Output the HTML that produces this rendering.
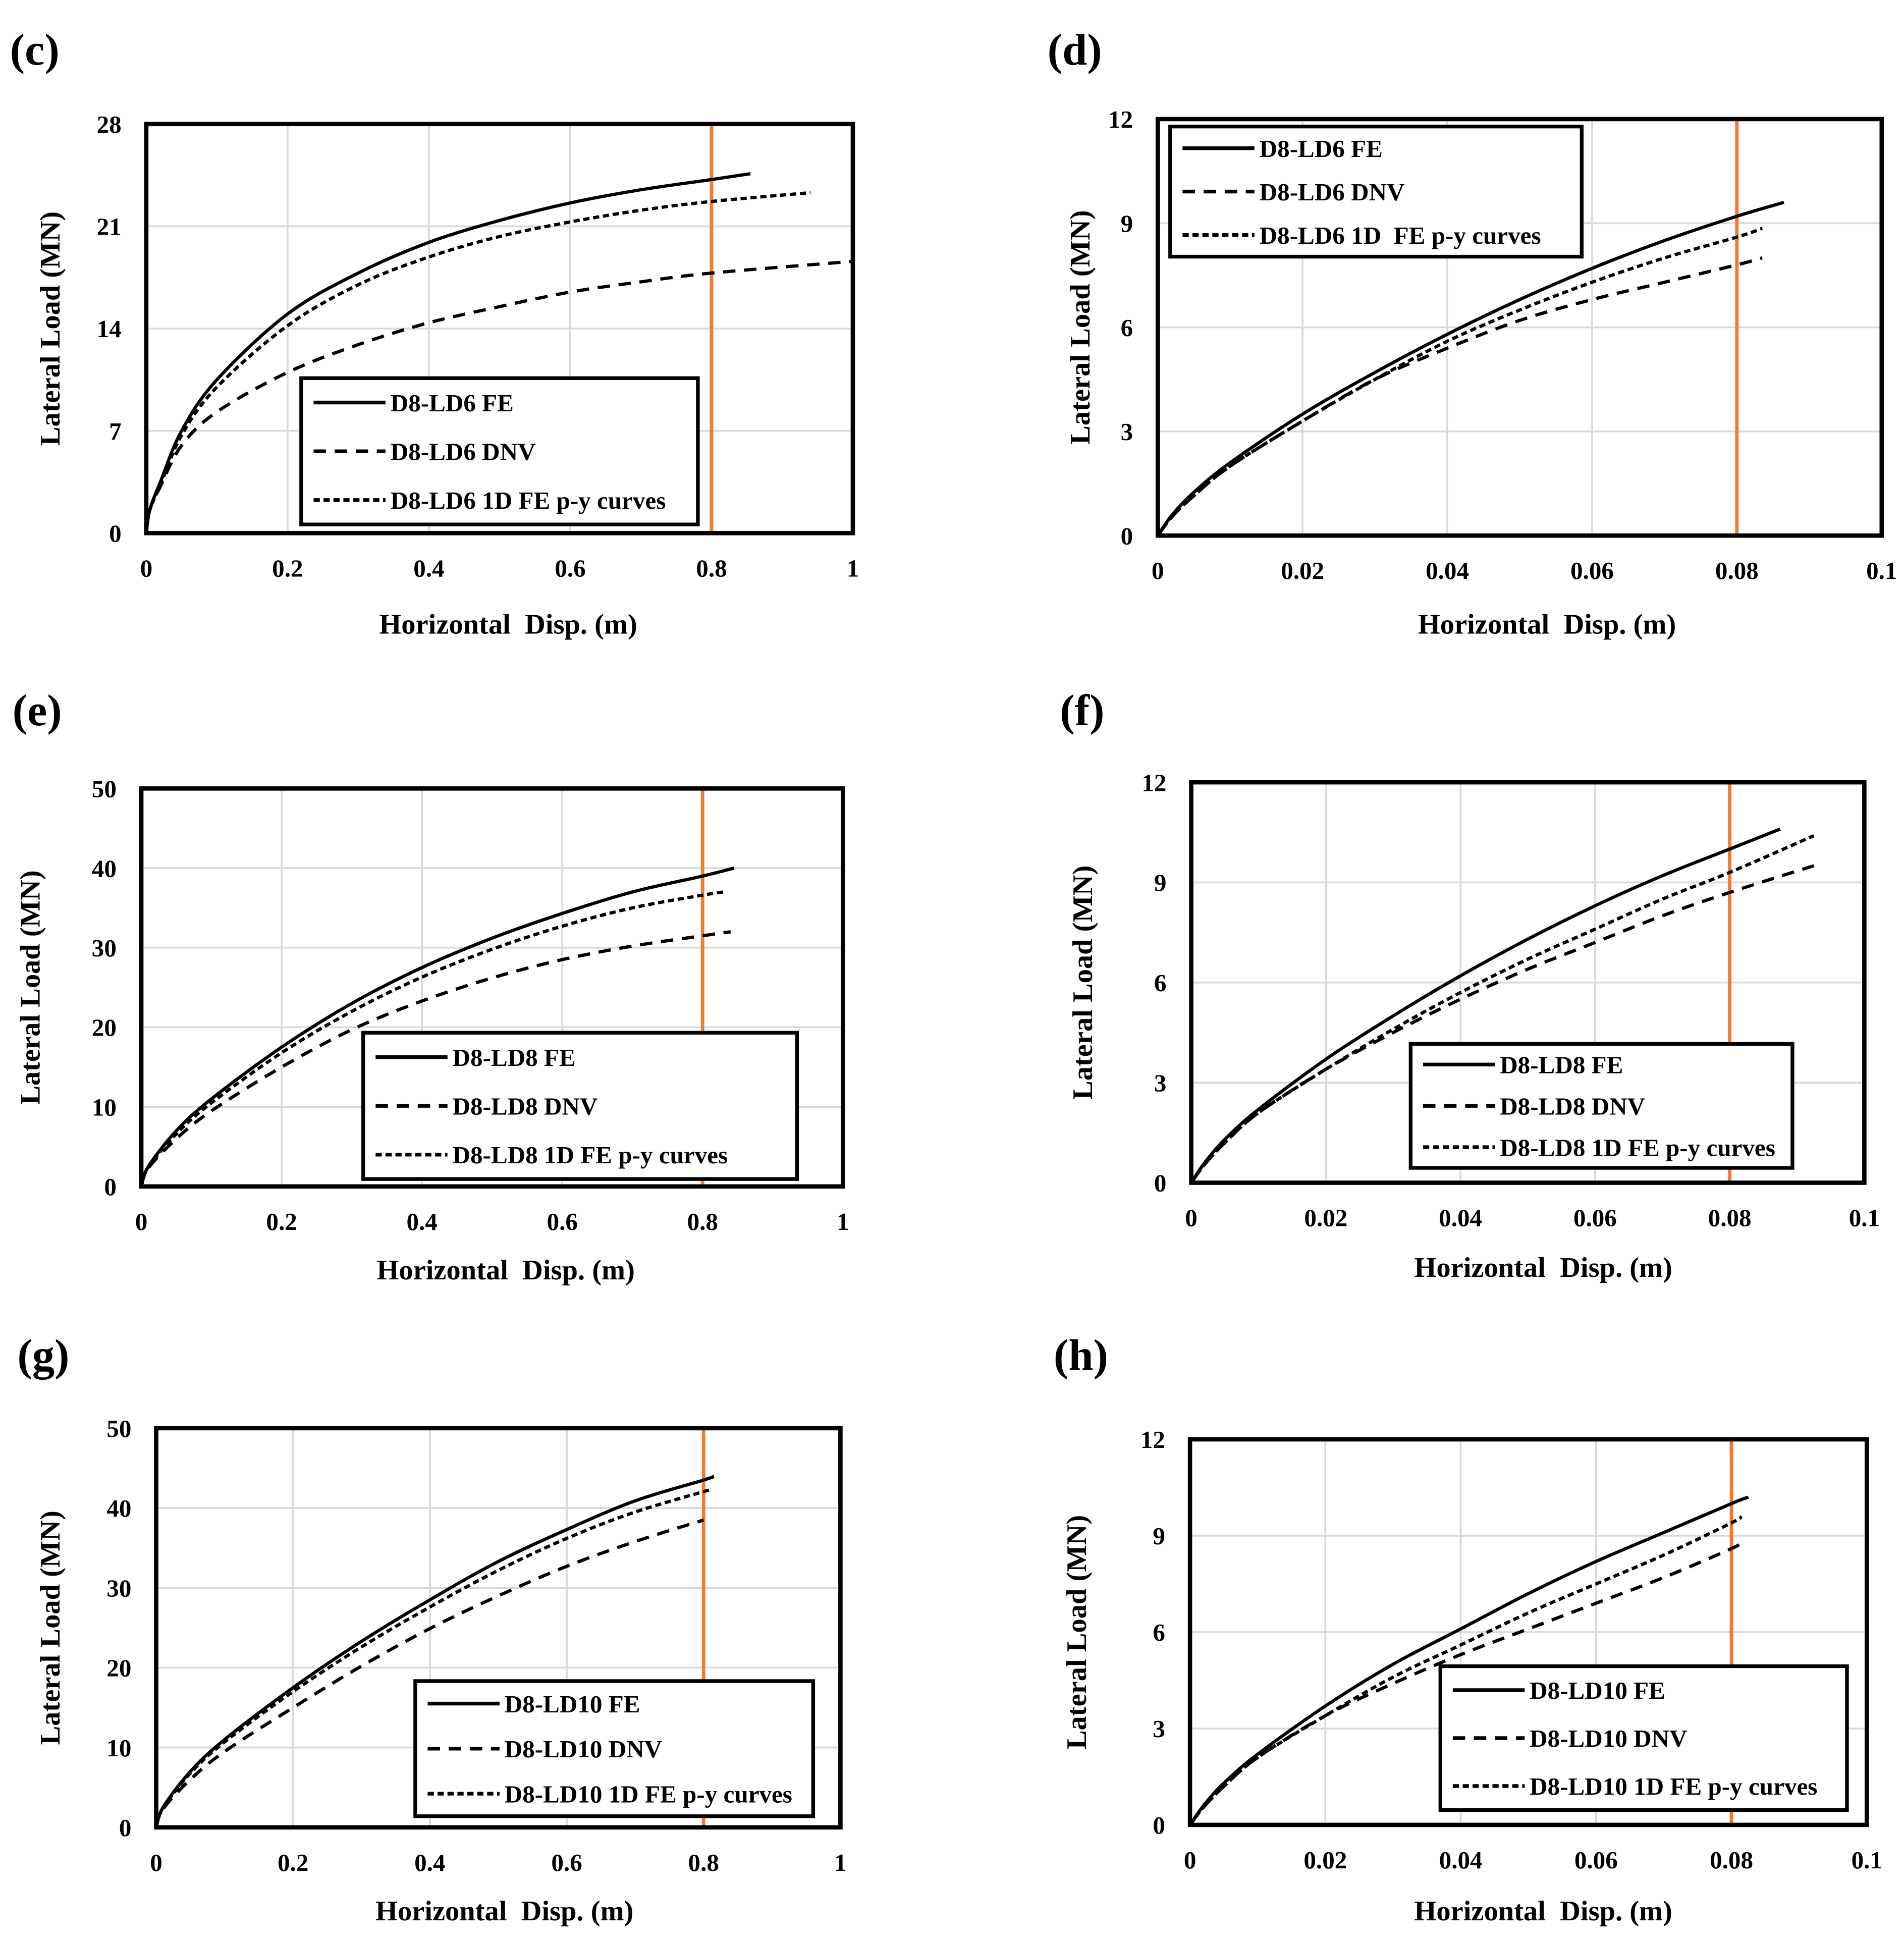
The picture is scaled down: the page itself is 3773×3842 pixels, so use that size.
<!DOCTYPE html>
<html><head><meta charset="utf-8"><style>
html,body{margin:0;padding:0;background:#fff}
svg{display:block}
text{font-family:"Liberation Serif",serif;font-weight:bold;fill:#000}
</style></head><body>
<svg id="fig" xmlns="http://www.w3.org/2000/svg" width="3773" height="3842" viewBox="0 0 1536 1564"></svg>
<script>
// ---- data (x in m, y in MN) ----
const cFE_x=[0,0.005,0.02,0.05,0.1,0.2,0.3,0.4,0.5,0.6,0.7,0.8,0.855];
const cFE_y=[0,1.6,3.5,7,10.5,15,17.8,19.9,21.4,22.6,23.5,24.2,24.6];
const cDNV_x=[0,0.005,0.02,0.05,0.1,0.2,0.3,0.4,0.5,0.6,0.7,0.8,1.0];
const cDNV_y=[0,1.6,3.2,6,8.3,11,12.9,14.4,15.5,16.5,17.2,17.8,18.6];
const cPY_x=[0,0.005,0.02,0.05,0.1,0.2,0.3,0.4,0.5,0.6,0.7,0.8,0.94];
const cPY_y=[0,1.6,3.3,6.7,10,14.2,17,18.9,20.3,21.3,22.1,22.7,23.3];

const dFE_x=[0,0.002,0.005,0.01,0.02,0.03,0.04,0.05,0.06,0.07,0.08,0.0865];
const dFE_y=[0,0.6,1.25,2.1,3.5,4.7,5.8,6.8,7.7,8.5,9.2,9.6];
const dDNV_x=[0,0.002,0.005,0.01,0.02,0.03,0.04,0.05,0.06,0.07,0.08,0.0835];
const dDNV_y=[0,0.55,1.15,2.0,3.3,4.5,5.4,6.2,6.8,7.3,7.8,8.0];
const dPY_x=[0,0.002,0.005,0.01,0.02,0.03,0.04,0.05,0.06,0.07,0.08,0.0835];
const dPY_y=[0,0.55,1.15,2.0,3.3,4.5,5.6,6.5,7.3,8.0,8.6,8.85];

const eFE_x=[0,0.01,0.05,0.1,0.2,0.3,0.4,0.5,0.6,0.7,0.8,0.845];
const eFE_y=[0,2.5,7,11,17.5,23,27.5,31.2,34.3,37,39,40];
const eDNV_x=[0,0.01,0.05,0.1,0.2,0.3,0.4,0.5,0.6,0.7,0.8,0.84];
const eDNV_y=[0,2.3,6,9.5,15,19.7,23.3,26.2,28.5,30.2,31.5,32];
const ePY_x=[0,0.01,0.05,0.1,0.2,0.3,0.4,0.5,0.6,0.7,0.8,0.83];
const ePY_y=[0,2.4,6.6,10.5,16.8,22,26.3,29.8,32.7,35,36.6,37];

const fFE_x=[0,0.002,0.005,0.01,0.02,0.03,0.04,0.05,0.06,0.07,0.08,0.0875];
const fFE_y=[0,0.6,1.3,2.2,3.7,5,6.2,7.3,8.3,9.2,10,10.6];
const fDNV_x=[0,0.002,0.005,0.01,0.02,0.03,0.04,0.05,0.06,0.07,0.08,0.0925];
const fDNV_y=[0,0.55,1.2,2.1,3.4,4.5,5.5,6.4,7.2,8,8.7,9.5];
const fPY_x=[0,0.002,0.005,0.01,0.02,0.03,0.04,0.05,0.06,0.07,0.08,0.0925];
const fPY_y=[0,0.55,1.2,2.1,3.4,4.6,5.7,6.7,7.6,8.5,9.3,10.4];

const gFE_x=[0,0.01,0.05,0.1,0.2,0.3,0.4,0.5,0.6,0.7,0.8,0.815];
const gFE_y=[0,2.5,7,11,17.5,23.3,28.5,33.3,37.3,40.9,43.5,44];
const gDNV_x=[0,0.01,0.05,0.1,0.2,0.3,0.4,0.5,0.6,0.7,0.8];
const gDNV_y=[0,2.3,6,9.5,15,20.2,24.9,29,32.7,35.8,38.5];
const gPY_x=[0,0.01,0.05,0.1,0.2,0.3,0.4,0.5,0.6,0.7,0.81];
const gPY_y=[0,2.4,6.8,10.7,17,22.6,27.6,32.2,36.2,39.5,42.3];

const hFE_x=[0,0.002,0.005,0.01,0.02,0.03,0.04,0.05,0.06,0.07,0.08,0.0825];
const hFE_y=[0,0.6,1.3,2.2,3.7,5,6.1,7.2,8.2,9.1,10,10.2];
const hDNV_x=[0,0.002,0.005,0.01,0.02,0.03,0.04,0.05,0.06,0.07,0.08,0.0815];
const hDNV_y=[0,0.55,1.2,2.1,3.4,4.4,5.3,6.1,6.9,7.7,8.6,8.8];
const hPY_x=[0,0.002,0.005,0.01,0.02,0.03,0.04,0.05,0.06,0.07,0.08,0.0815];
const hPY_y=[0,0.55,1.2,2.1,3.4,4.6,5.6,6.6,7.5,8.4,9.4,9.6];

const xTicksBig=["0","0.2","0.4","0.6","0.8","1"];
const xTicksSmall=["0","0.02","0.04","0.06","0.08","0.1"];
const yTicks28=["0","7","14","21","28"];
const yTicks12=["0","3","6","9","12"];
const yTicks50=["0","10","20","30","40","50"];
const limitX=[0.8,0.08];

const NS="http://www.w3.org/2000/svg";
const svg=document.getElementById('fig');
function mk(tag,attrs,parent){const e=document.createElementNS(NS,tag);for(const k in attrs)e.setAttribute(k,attrs[k]);(parent||svg).appendChild(e);return e;}
function smooth(pts){
 let d='M'+pts[0][0].toFixed(2)+','+pts[0][1].toFixed(2);
 for(let i=0;i<pts.length-1;i++){
  const p0=pts[Math.max(0,i-1)],p1=pts[i],p2=pts[i+1],p3=pts[Math.min(pts.length-1,i+2)];
  const c1=[p1[0]+(p2[0]-p0[0])/6,p1[1]+(p2[1]-p0[1])/6];
  const c2=[p2[0]-(p3[0]-p1[0])/6,p2[1]-(p3[1]-p1[1])/6];
  d+='C'+c1.map(v=>v.toFixed(2)).join(',')+' '+c2.map(v=>v.toFixed(2)).join(',')+' '+p2[0].toFixed(2)+','+p2[1].toFixed(2);
 }
 return d;
}

const panels=[
 {id:'c',lab:'(c)',lx:8,ly:52,x0:118,x1:688,y0:100,y1:430,xt:xTicksBig,yt:yTicks28,lim:limitX[0],leg:[243,305,563,423],name:'D8-LD6',py:' 1D FE p-y curves',
  s:[[cFE_x,cFE_y],[cDNV_x,cDNV_y],[cPY_x,cPY_y]],ylx:48,xly:511,xlc:410},
 {id:'d',lab:'(d)',lx:845,ly:52,x0:934,x1:1518,y0:96,y1:432,xt:xTicksSmall,yt:yTicks12,lim:limitX[1],leg:[944,102,1276,207],name:'D8-LD6',py:' 1D  FE p-y curves',
  s:[[dFE_x,dFE_y],[dDNV_x,dDNV_y],[dPY_x,dPY_y]],ylx:879,xly:511,xlc:1248},
 {id:'e',lab:'(e)',lx:10,ly:585,x0:114,x1:680,y0:636,y1:957,xt:xTicksBig,yt:yTicks50,lim:limitX[0],leg:[293,833,643,951],name:'D8-LD8',py:' 1D FE p-y curves',
  s:[[eFE_x,eFE_y],[eDNV_x,eDNV_y],[ePY_x,ePY_y]],ylx:32,xly:1032,xlc:408},
 {id:'f',lab:'(f)',lx:855,ly:585,x0:961,x1:1504,y0:631,y1:954,xt:xTicksSmall,yt:yTicks12,lim:limitX[1],leg:[1138,842,1446,942],name:'D8-LD8',py:' 1D FE p-y curves',
  s:[[fFE_x,fFE_y],[fDNV_x,fDNV_y],[fPY_x,fPY_y]],ylx:881,xly:1030,xlc:1245},
 {id:'g',lab:'(g)',lx:14,ly:1105,x0:126,x1:678,y0:1152,y1:1474,xt:xTicksBig,yt:yTicks50,lim:limitX[0],leg:[335,1356,656,1465],name:'D8-LD10',py:' 1D FE p-y curves',
  s:[[gFE_x,gFE_y],[gDNV_x,gDNV_y],[gPY_x,gPY_y]],ylx:48,xly:1549,xlc:407},
 {id:'h',lab:'(h)',lx:850,ly:1105,x0:960,x1:1506,y0:1161,y1:1472,xt:xTicksSmall,yt:yTicks12,lim:limitX[1],leg:[1162,1344,1490,1460],name:'D8-LD10',py:' 1D FE p-y curves',
  s:[[hFE_x,hFE_y],[hDNV_x,hDNV_y],[hPY_x,hPY_y]],ylx:876,xly:1549,xlc:1245}
];
const dashes=['none','10,7','5,3'];
const sNames=['fe','dnv','py'];

panels.forEach(p=>{
 const g=mk('g',{});
 
 
 const xmax=parseFloat(p.xt[p.xt.length-1]), ymax=parseFloat(p.yt[p.yt.length-1]);
 const X=v=>p.x0+(v/xmax)*(p.x1-p.x0);
 const Y=v=>p.y1-(v/ymax)*(p.y1-p.y0);
 const t=mk('text',{x:p.lx,y:p.ly,'font-size':36},g);t.textContent=p.lab;
 
 
 p.xt.forEach((lbl,i)=>{const v=parseFloat(lbl);
  if(i>0&&i<p.xt.length-1){const l=mk('line',{x1:X(v),x2:X(v),y1:p.y0,y2:p.y1,stroke:'#d9d9d9','stroke-width':1.5},g);
   }
  const tt=mk('text',{x:X(v),y:p.y1+35,'font-size':20,'text-anchor':'middle'},g);tt.textContent=lbl;
  
 });
 p.yt.forEach((lbl,i)=>{const v=parseFloat(lbl);
  if(i>0&&i<p.yt.length-1){const l=mk('line',{x1:p.x0,x2:p.x1,y1:Y(v),y2:Y(v),stroke:'#d9d9d9','stroke-width':1.5},g);
   }
  const tt=mk('text',{x:p.x0-20,y:Y(v)+7,'font-size':20,'text-anchor':'end'},g);tt.textContent=lbl;
  
 });
 const ol=mk('line',{x1:X(p.lim),x2:X(p.lim),y1:p.y0,y2:p.y1,stroke:'#f47a2f','stroke-width':2.8},g);
 
 p.s.forEach((s,k)=>{
  const pts=s[0].map((xv,i)=>[X(xv),Y(s[1][i])]);
  const a={d:smooth(pts),fill:'none',stroke:'#000','stroke-width':2.6};
  if(dashes[k]!=='none')a['stroke-dasharray']=dashes[k];
  const path=mk('path',a,g);
  
  
 });
 const fr=mk('rect',{x:p.x0,y:p.y0,width:p.x1-p.x0,height:p.y1-p.y0,fill:'none',stroke:'#000','stroke-width':3.5},g);
 
 const [lx0,ly0,lx1,ly1]=p.leg;
 const lg=mk('g',{},g);
 
 mk('rect',{x:lx0,y:ly0,width:lx1-lx0,height:ly1-ly0,fill:'#fff',stroke:'#000','stroke-width':3},lg);
 const labels=[p.name+' FE',p.name+' DNV',p.name+p.py];
 const step=(ly1-ly0)/3;
 labels.forEach((lt,k)=>{
  const yy=ly0+step*(k+0.5);
  const la={x1:lx0+10,x2:lx0+68,y1:yy,y2:yy,stroke:'#000','stroke-width':3};
  if(dashes[k]!=='none')la['stroke-dasharray']=dashes[k];
  const ln=mk('line',la,lg);
  
  const tx=mk('text',{x:lx0+72,y:yy+7,'font-size':20},lg);tx.textContent=lt;
  tx.style.whiteSpace='pre';
  
 });
 const xl=mk('text',{x:p.xlc,y:p.xly,'font-size':23,'text-anchor':'middle'},g);
 xl.textContent='Horizontal  Disp. (m)';
 xl.style.whiteSpace='pre';
 
 const yc=(p.y0+p.y1)/2;
 const yl=mk('text',{x:p.ylx,y:yc,'font-size':23,'text-anchor':'middle',transform:'rotate(-90 '+p.ylx+' '+yc+')'},g);
 yl.textContent='Lateral Load (MN)';
 
});
</script>
</body></html>
